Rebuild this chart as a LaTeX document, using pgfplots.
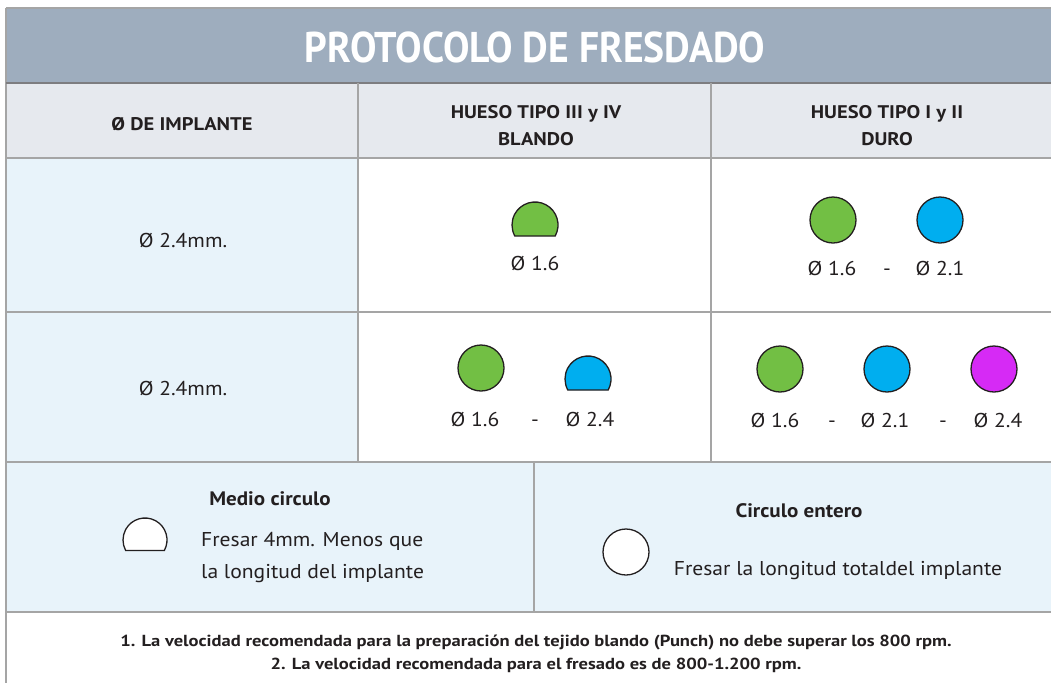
\documentclass[border=0pt]{standalone}
\usepackage{pgfplots}
\pgfplotsset{compat=1.18}
\usepackage{fontspec}
\setmainfont{PT Sans}
\newfontfamily\wf[FakeStretch=1.08]{PT Sans}
\newfontfamily\hf[FakeStretch=1.12]{PT Sans}
\newfontfamily\ff[FakeStretch=1.16]{PT Sans}
\newfontfamily\tf[FakeStretch=0.92]{PT Sans}
\definecolor{titlebg}{RGB}{158,173,190}
\definecolor{headbg}{RGB}{230,233,238}
\definecolor{lightb}{RGB}{232,243,250}
\definecolor{gridc}{RGB}{165,165,165}
\definecolor{titleline}{RGB}{125,125,128}
\definecolor{txt}{RGB}{35,31,32}
\definecolor{cgreen}{RGB}{114,191,68}
\definecolor{cblue}{RGB}{0,174,239}
\definecolor{cmag}{RGB}{214,42,245}
\pgfdeclareplotmark{halfc}{%
  \pgfpathmoveto{\pgfpointpolar{-28.6}{\pgfplotmarksize}}%
  \pgfpatharc{-28.6}{208.6}{\pgfplotmarksize}%
  \pgfpathclose
  \pgfusepathqfillstroke}
\newcommand{\fs}[1]{\fontsize{#1}{#1}\selectfont}
\begin{document}
\begin{tikzpicture}
\begin{axis}[at={(0,0)},anchor=south west,width=1051pt,height=683pt,scale only axis,
  xmin=0,xmax=1051,ymin=0,ymax=683,y dir=reverse,hide axis,clip=false]
% backgrounds
\fill[titlebg] (axis cs:6,8) rectangle (axis cs:1051,83);
\fill[headbg] (axis cs:6,83) rectangle (axis cs:1051,158);
\fill[lightb] (axis cs:6,158) rectangle (axis cs:358,462);
\fill[lightb] (axis cs:6,462) rectangle (axis cs:1051,612);
% grid lines
\draw[gridc,line width=1.5pt] (axis cs:6,8) -- (axis cs:1051,8);
\draw[gridc,line width=1.5pt] (axis cs:6,8) -- (axis cs:6,683);
\draw[titleline,line width=1.8pt] (axis cs:6,83) -- (axis cs:1051,83);
\draw[gridc,line width=1.5pt] (axis cs:6,158) -- (axis cs:1051,158);
\draw[gridc,line width=1.2pt] (axis cs:6,312) -- (axis cs:1051,312);
\draw[gridc,line width=1.2pt] (axis cs:6,462) -- (axis cs:1051,462);
\draw[gridc,line width=1.5pt] (axis cs:6,612) -- (axis cs:1051,612);
\draw[gridc,line width=1.2pt] (axis cs:358,83) -- (axis cs:358,462);
\draw[gridc,line width=1.2pt] (axis cs:711,83) -- (axis cs:711,462);
\draw[gridc,line width=1.2pt] (axis cs:534,462) -- (axis cs:534,612);
% full circles
\addplot[only marks,mark=*,mark size=23,mark options={fill=cgreen,draw=txt,line width=1.3pt}]
  coordinates {(833,220) (481,368) (780,369)};
\addplot[only marks,mark=*,mark size=23,mark options={fill=cblue,draw=txt,line width=1.3pt}]
  coordinates {(940,220) (887,369)};
\addplot[only marks,mark=*,mark size=23,mark options={fill=cmag,draw=txt,line width=1.3pt}]
  coordinates {(994,369)};
\addplot[only marks,mark=*,mark size=23,mark options={fill=white,draw=txt,line width=1.3pt}]
  coordinates {(626,552)};
% half circles
\addplot[only marks,mark=halfc,mark size=23,mark options={fill=cgreen,draw=txt,line width=1.3pt}]
  coordinates {(535,225)};
\addplot[only marks,mark=halfc,mark size=23,mark options={fill=cblue,draw=txt,line width=1.3pt}]
  coordinates {(588,379)};
\addplot[only marks,mark=halfc,mark size=22,mark options={fill=white,draw=txt,line width=1.3pt}]
  coordinates {(145,540)};
% texts
\node[anchor=base,text=white,font=\tf\fs{43}\bfseries] at (axis cs:535,62) {PROTOCOLO DE FRESDADO};
\node[anchor=base,text=txt,font=\hf\fs{18.3}\bfseries] at (axis cs:182,130) {Ø DE IMPLANTE};
\node[anchor=base,text=txt,font=\hf\fs{18.3}\bfseries] at (axis cs:536,118) {HUESO TIPO III y IV};
\node[anchor=base,text=txt,font=\hf\fs{18.3}\bfseries] at (axis cs:536,145) {BLANDO};
\node[anchor=base,text=txt,font=\hf\fs{18.3}\bfseries] at (axis cs:887,118) {HUESO TIPO I y II};
\node[anchor=base,text=txt,font=\hf\fs{18.3}\bfseries] at (axis cs:887,145) {DURO};
\node[anchor=base,text=txt,font=\wf\fs{20}] at (axis cs:183,247) {Ø 2.4mm.};
\node[anchor=base,text=txt,font=\wf\fs{20}] at (axis cs:183,395) {Ø 2.4mm.};
\node[anchor=base,text=txt,font=\wf\fs{20}] at (axis cs:535,270) {Ø 1.6};
\node[anchor=base,text=txt,font=\wf\fs{20}] at (axis cs:832,275) {Ø 1.6};
\node[anchor=base,text=txt,font=\wf\fs{20}] at (axis cs:887,275) {-};
\node[anchor=base,text=txt,font=\wf\fs{20}] at (axis cs:940,275) {Ø 2.1};
\node[anchor=base,text=txt,font=\wf\fs{20}] at (axis cs:475,426) {Ø 1.6};
\node[anchor=base,text=txt,font=\wf\fs{20}] at (axis cs:535,426) {-};
\node[anchor=base,text=txt,font=\wf\fs{20}] at (axis cs:590,426) {Ø 2.4};
\node[anchor=base,text=txt,font=\wf\fs{20}] at (axis cs:775,427) {Ø 1.6};
\node[anchor=base,text=txt,font=\wf\fs{20}] at (axis cs:832,427) {-};
\node[anchor=base,text=txt,font=\wf\fs{20}] at (axis cs:885,427) {Ø 2.1};
\node[anchor=base,text=txt,font=\wf\fs{20}] at (axis cs:943,427) {-};
\node[anchor=base,text=txt,font=\wf\fs{20}] at (axis cs:998,427) {Ø 2.4};
\node[anchor=base,text=txt,font=\wf\fs{19.5}\bfseries] at (axis cs:270,505) {Medio circulo};
\node[anchor=base west,text=txt,font=\wf\fs{20},inner sep=0pt] at (axis cs:201,546) {Fresar 4mm. Menos que};
\node[anchor=base west,text=txt,font=\wf\fs{20},inner sep=0pt] at (axis cs:201,578) {la longitud del implante};
\node[anchor=base,text=txt,font=\wf\fs{19.5}\bfseries] at (axis cs:799,517) {Circulo entero};
\node[anchor=base,text=txt,font=\wf\fs{20}] at (axis cs:838,575) {Fresar la longitud totaldel implante};
\node[anchor=base,text=txt,font=\ff\fs{16}\bfseries] at (axis cs:536,646) {1. La velocidad recomendada para la preparación del tejido blando (Punch) no debe superar los 800 rpm.};
\node[anchor=base,text=txt,font=\ff\fs{16}\bfseries] at (axis cs:536,669) {2. La velocidad recomendada para el fresado es de 800-1.200 rpm.};
\end{axis}
\pgfresetboundingbox
\useasboundingbox (0,0) rectangle (1051pt,683pt);
\end{tikzpicture}
\end{document}
